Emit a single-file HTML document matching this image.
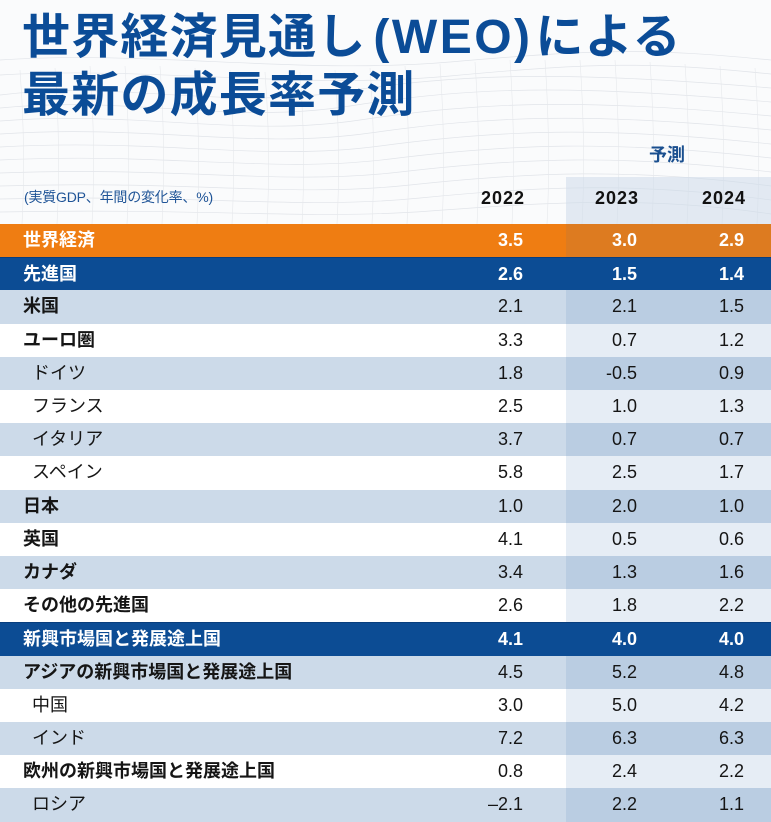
<!DOCTYPE html>
<html lang="ja">
<head>
<meta charset="utf-8">
<style>
  html,body{margin:0;padding:0;}
  body{width:771px;height:818px;position:relative;overflow:hidden;background:#fafbfc;
       font-family:"Liberation Sans","Noto Sans CJK JP",sans-serif;}
  .title{position:absolute;left:22px;top:6px;font-family:"Noto Sans CJK JP","Liberation Sans",sans-serif;
         font-weight:700;font-size:48px;line-height:52px;color:#0b4c97;letter-spacing:1.2px;white-space:nowrap;}
  .weo{font-family:"Liberation Sans",sans-serif;font-weight:700;letter-spacing:2.5px;margin-left:7px;margin-right:3px;}
  .row{position:absolute;left:0;width:771px;height:33.2px;}
  .row .fc{position:absolute;left:566px;top:0;width:205px;height:100%;}
  .lbl{position:absolute;top:0;height:33.2px;line-height:33.2px;font-size:18px;color:#151515;
       font-family:"Liberation Sans","Noto Sans CJK JP",sans-serif;white-space:nowrap;}
  .b{font-weight:700;left:23px;}
  .i{font-weight:400;left:32px;}
  .num{position:absolute;top:0;height:33.2px;line-height:33.2px;font-size:18px;color:#151515;text-align:right;width:80px;}
  .c1{left:443px;} .c2{left:557px;} .c3{left:664px;}
  .orange{background:#ef7d12;} .orange .fc{background:#dd7b20;}
  .blue{background:#0c4c94;border-top:1px solid #083e7e;box-sizing:border-box;} .blue .fc{background:#0c4c94;}
  .light{background:#ccdae9;} .light .fc{background:#bacde2;}
  .white{background:#ffffff;} .white .fc{background:#e6edf5;}
  .orange .lbl,.orange .num,.blue .lbl,.blue .num{color:#fff;font-weight:700;}
  .hdr{position:absolute;font-weight:700;font-size:18px;color:#111;letter-spacing:1px;text-align:right;width:80px;top:185px;line-height:26px;}
</style>
</head>
<body>
<svg width="771" height="230" style="position:absolute;left:0;top:0" xmlns="http://www.w3.org/2000/svg">
  <g fill="none" stroke="#e1e4e9" stroke-width="0.7">
    <path d="M0 95 C120 80 220 110 340 92 S560 70 771 88"/>
    <path d="M0 108 C130 95 230 125 350 106 S570 84 771 102"/>
    <path d="M0 121 C140 110 240 138 360 120 S580 98 771 116"/>
    <path d="M0 134 C150 124 250 150 370 133 S590 112 771 130"/>
    <path d="M0 147 C160 138 260 162 380 146 S600 126 771 144"/>
    <path d="M0 160 C170 152 270 174 390 159 S610 140 771 158"/>
    <path d="M0 173 C180 166 280 186 400 172 S620 154 771 172"/>
    <path d="M0 186 C190 180 290 198 410 185 S630 168 771 186"/>
    <path d="M0 199 C200 194 300 210 420 198 S640 182 771 200"/>
    <path d="M0 212 C210 208 310 220 430 211 S650 196 771 214"/>
    <path d="M0 60 C150 50 300 75 450 62 S650 48 771 60"/>
    <path d="M0 75 C150 66 300 90 450 76 S650 62 771 74"/>
  </g>
  <g fill="none" stroke="#e6e8ec" stroke-width="0.6">
    <path d="M20 70 Q26 150 22 224 M55 68 Q61 150 57 224 M90 66 Q96 150 92 224 M125 66 Q131 150 127 224 M160 66 Q166 150 162 224 M195 68 Q201 150 197 224 M230 70 Q236 150 232 224 M265 72 Q271 150 267 224 M300 72 Q306 150 302 224 M335 70 Q341 150 337 224 M370 68 Q376 150 372 224 M405 66 Q411 150 407 224 M440 64 Q446 150 442 224 M475 62 Q481 150 477 224 M510 60 Q516 150 512 224 M545 60 Q551 150 547 224 M580 60 Q586 150 582 224 M615 60 Q621 150 617 224 M650 62 Q656 150 652 224 M685 64 Q691 150 687 224 M720 66 Q726 150 722 224 M755 68 Q761 150 757 224"/>
  </g>
</svg>

<div class="title">世界経済見通し<span class="weo">(WEO)</span>による<br>最新の成長率予測</div>

<div style="position:absolute;left:566px;top:177px;width:205px;height:47px;background:rgba(205,218,233,0.55);"></div>
<div style="position:absolute;left:649px;top:141px;font-family:'Noto Sans CJK JP',sans-serif;font-weight:700;font-size:18px;line-height:26px;color:#1a4f8f;">予測</div>
<div style="position:absolute;left:24px;top:186px;font-size:14px;line-height:22px;color:#1f5497;white-space:nowrap;letter-spacing:-0.2px;">(実質GDP、年間の変化率、%)</div>
<div class="hdr" style="left:445px;">2022</div>
<div class="hdr" style="left:559px;">2023</div>
<div class="hdr" style="left:666px;">2024</div>

<div class="row orange" style="top:224px;"><div class="fc"></div><div class="lbl b">世界経済</div><div class="num c1">3.5</div><div class="num c2">3.0</div><div class="num c3">2.9</div></div>
<div class="row blue" style="top:257.2px;"><div class="fc"></div><div class="lbl b">先進国</div><div class="num c1">2.6</div><div class="num c2">1.5</div><div class="num c3">1.4</div></div>
<div class="row light" style="top:290.4px;"><div class="fc"></div><div class="lbl b">米国</div><div class="num c1">2.1</div><div class="num c2">2.1</div><div class="num c3">1.5</div></div>
<div class="row white" style="top:323.6px;"><div class="fc"></div><div class="lbl b">ユーロ圏</div><div class="num c1">3.3</div><div class="num c2">0.7</div><div class="num c3">1.2</div></div>
<div class="row light" style="top:356.8px;"><div class="fc"></div><div class="lbl i">ドイツ</div><div class="num c1">1.8</div><div class="num c2">-0.5</div><div class="num c3">0.9</div></div>
<div class="row white" style="top:390px;"><div class="fc"></div><div class="lbl i">フランス</div><div class="num c1">2.5</div><div class="num c2">1.0</div><div class="num c3">1.3</div></div>
<div class="row light" style="top:423.2px;"><div class="fc"></div><div class="lbl i">イタリア</div><div class="num c1">3.7</div><div class="num c2">0.7</div><div class="num c3">0.7</div></div>
<div class="row white" style="top:456.4px;"><div class="fc"></div><div class="lbl i">スペイン</div><div class="num c1">5.8</div><div class="num c2">2.5</div><div class="num c3">1.7</div></div>
<div class="row light" style="top:489.6px;"><div class="fc"></div><div class="lbl b">日本</div><div class="num c1">1.0</div><div class="num c2">2.0</div><div class="num c3">1.0</div></div>
<div class="row white" style="top:522.8px;"><div class="fc"></div><div class="lbl b">英国</div><div class="num c1">4.1</div><div class="num c2">0.5</div><div class="num c3">0.6</div></div>
<div class="row light" style="top:556px;"><div class="fc"></div><div class="lbl b">カナダ</div><div class="num c1">3.4</div><div class="num c2">1.3</div><div class="num c3">1.6</div></div>
<div class="row white" style="top:589.2px;"><div class="fc"></div><div class="lbl b">その他の先進国</div><div class="num c1">2.6</div><div class="num c2">1.8</div><div class="num c3">2.2</div></div>
<div class="row blue" style="top:622.4px;"><div class="fc"></div><div class="lbl b">新興市場国と発展途上国</div><div class="num c1">4.1</div><div class="num c2">4.0</div><div class="num c3">4.0</div></div>
<div class="row light" style="top:655.6px;"><div class="fc"></div><div class="lbl b">アジアの新興市場国と発展途上国</div><div class="num c1">4.5</div><div class="num c2">5.2</div><div class="num c3">4.8</div></div>
<div class="row white" style="top:688.8px;"><div class="fc"></div><div class="lbl i">中国</div><div class="num c1">3.0</div><div class="num c2">5.0</div><div class="num c3">4.2</div></div>
<div class="row light" style="top:722px;"><div class="fc"></div><div class="lbl i">インド</div><div class="num c1">7.2</div><div class="num c2">6.3</div><div class="num c3">6.3</div></div>
<div class="row white" style="top:755.2px;"><div class="fc"></div><div class="lbl b">欧州の新興市場国と発展途上国</div><div class="num c1">0.8</div><div class="num c2">2.4</div><div class="num c3">2.2</div></div>
<div class="row light" style="top:788.4px;"><div class="fc"></div><div class="lbl i">ロシア</div><div class="num c1">–2.1</div><div class="num c2">2.2</div><div class="num c3">1.1</div></div>
</body>
</html>
